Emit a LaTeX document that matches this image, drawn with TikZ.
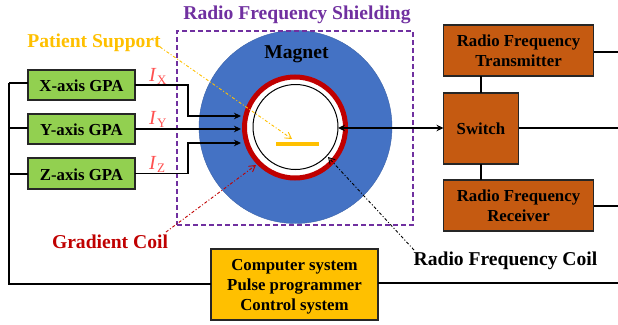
\documentclass[tikz,border=0pt]{standalone}
\usepackage{fontspec}
\setmainfont{Liberation Serif}
\usetikzlibrary{arrows.meta,calc}
\definecolor{gpagreen}{HTML}{92D050}
\definecolor{rforange}{HTML}{C55A11}
\definecolor{gold}{HTML}{FFC000}
\definecolor{magblue}{HTML}{4472C4}
\definecolor{shieldpurple}{HTML}{7030A0}
\definecolor{coilred}{HTML}{C00000}
\definecolor{cursample}{HTML}{FF5050}
\tikzset{
  x=1pt,y=-1pt,
  every node/.style={inner sep=0pt,outer sep=0pt,align=center},
  boxbase/.style={draw=black!85,line width=1.3pt,anchor=north west,font=\fontsize{16.8}{20.3}\selectfont\bfseries},
  gpabox/.style={boxbase,fill=gpagreen,minimum width=107pt,minimum height=30pt},
  rfbox/.style={boxbase,fill=rforange},
  wire/.style={draw=black,line width=1.5pt},
  feed/.style={wire,-{Stealth[length=7pt,width=6.5pt]}},
  both/.style={wire,{Stealth[length=7pt,width=6.5pt]}-{Stealth[length=7pt,width=6.5pt]}},
  callout/.style={line width=0.9pt,dash pattern=on 3pt off 2pt on 1pt off 2pt,-{Straight Barb[length=6pt,width=7pt]}},
  lbl/.style={font=\fontsize{19.6}{22}\selectfont\bfseries},
  cur/.style={text=cursample,font=\fontsize{20}{22}\selectfont\itshape},
  cursub/.style={text=cursample,font=\fontsize{13}{14}\selectfont},
}
\newcommand{\lowerby}[1]{\rule{0pt}{#1pt}}
\begin{document}
\begin{tikzpicture}
\useasboundingbox (0,0) rectangle (618,324);
% magnet
\node[circle,fill=magblue,draw=magblue!85!black,line width=0.4pt,minimum size=193pt] (magnet) at (295.5,127) {};
\node[circle,fill=white,draw=coilred,line width=5pt,minimum size=101pt] (gradcoil) at (295,127.5) {};
\node[circle,draw=black,line width=1pt,minimum size=85pt] (rfcoil) at (295.5,127) {};
\node[fill=gold,minimum width=43pt,minimum height=3.5pt] (table) at (297.5,144) {};
% shield
\node[draw=shieldpurple,line width=1.3pt,dashed,dash pattern=on 5pt off 3pt,minimum width=236pt,minimum height=194pt,anchor=north west] (shield) at (177,31) {};
% boxes
\node[gpabox] (xg) at (28,70) {\lowerby{13.5}X-axis GPA};
\node[gpabox] (yg) at (28,114) {\lowerby{13.5}Y-axis GPA};
\node[gpabox,minimum height=31pt] (zg) at (28,158) {\lowerby{13.5}Z-axis GPA};
\node[rfbox,minimum width=150pt,minimum height=51pt] (tx) at (443.5,25) {\lowerby{12.5}Radio Frequency\\Transmitter};
\node[rfbox,minimum width=75pt,minimum height=71pt] (sw) at (443.5,93) {Switch};
\node[rfbox,minimum width=150pt,minimum height=51pt] (rx) at (443.5,180) {\lowerby{12.5}Radio Frequency\\Receiver};
\node[boxbase,fill=gold,minimum width=167pt,minimum height=71pt] (pc) at (211,249) {\lowerby{16}Computer system\\Pulse programmer\\Control system};
% labels
\node[lbl,text=shieldpurple] (tshield) at (297,14.5) {Radio Frequency Shielding};
\node[lbl,text=gold] (tpatient) at (94,42.5) {Patient Support};
\node[lbl,text=black] (tmagnet) at (296.5,54) {Magnet};
\node[lbl,text=coilred] (tgrad) at (110,242) {Gradient Coil};
\node[lbl,text=black] (trf) at (505.5,261) {Radio Frequency Coil};
\node[cur] (ix) at (152.5,75) {I};
\node[cursub,anchor=west] (sx) at (157,80) {X};
\node[cur] (iy) at (152.5,118) {I};
\node[cursub,anchor=west] (sy) at (157,123) {Y};
\node[cur] (iz) at (152.5,163) {I};
\node[cursub,anchor=west] (sz) at (157,168) {Z};
% coordinates
\coordinate (ax) at (241,116);
\coordinate (ay) at (241,129);
\coordinate (az) at (241,143);
\coordinate (bend) at (188,100);
\coordinate (busx) at (9,83);
\coordinate (busy) at (9,128);
\coordinate (busz) at (9,174);
\coordinate (busb) at (9,284);
\coordinate (edgetx) at (618,52);
\coordinate (edgesw) at (618,128);
\coordinate (edgerx) at (618,206);
\coordinate (edgepc) at (618,283);
\coordinate (coilin) at (338,128);
\coordinate (ptip) at (292,139);
\coordinate (gtip) at (256,165);
\coordinate (rtip) at (328,157);
\coordinate (pstart) at (160,47);
\coordinate (gstart) at (166,232);
\coordinate (rstart) at (414,250);
% wires
\draw[feed] (xg.east) -- (bend|-xg.east) -- (bend|-ax) -- (ax);
\draw[feed] (yg.east) -- (ay);
\draw[feed] (zg.east) -- (bend|-zg.east) -- (bend|-az) -- (az);
\draw[wire] (busx) -- (busb) -- (pc.west|-busb);
\draw[wire] (busx) -- (xg.west|-busx);
\draw[wire] (busy) -- (yg.west|-busy);
\draw[wire] (busz) -- (zg.west|-busz);
\draw[both] (coilin) -- (sw.west|-coilin);
\draw[wire] (sw.north-|sw.center) -- (tx.south-|sw.center);
\draw[wire] (sw.south-|sw.center) -- (rx.north-|sw.center);
\draw[wire] (tx.east|-edgetx) -- (edgetx);
\draw[wire] (sw.east|-edgesw) -- (edgesw);
\draw[wire] (rx.east|-edgerx) -- (edgerx);
\draw[wire] (pc.east|-edgepc) -- (edgepc);
% callouts
\draw[callout,draw=gold] (pstart) -- (ptip);
\draw[callout,draw=coilred] (gstart) -- (gtip);
\draw[callout,draw=black] (rstart) -- (rtip);
\end{tikzpicture}
\end{document}
